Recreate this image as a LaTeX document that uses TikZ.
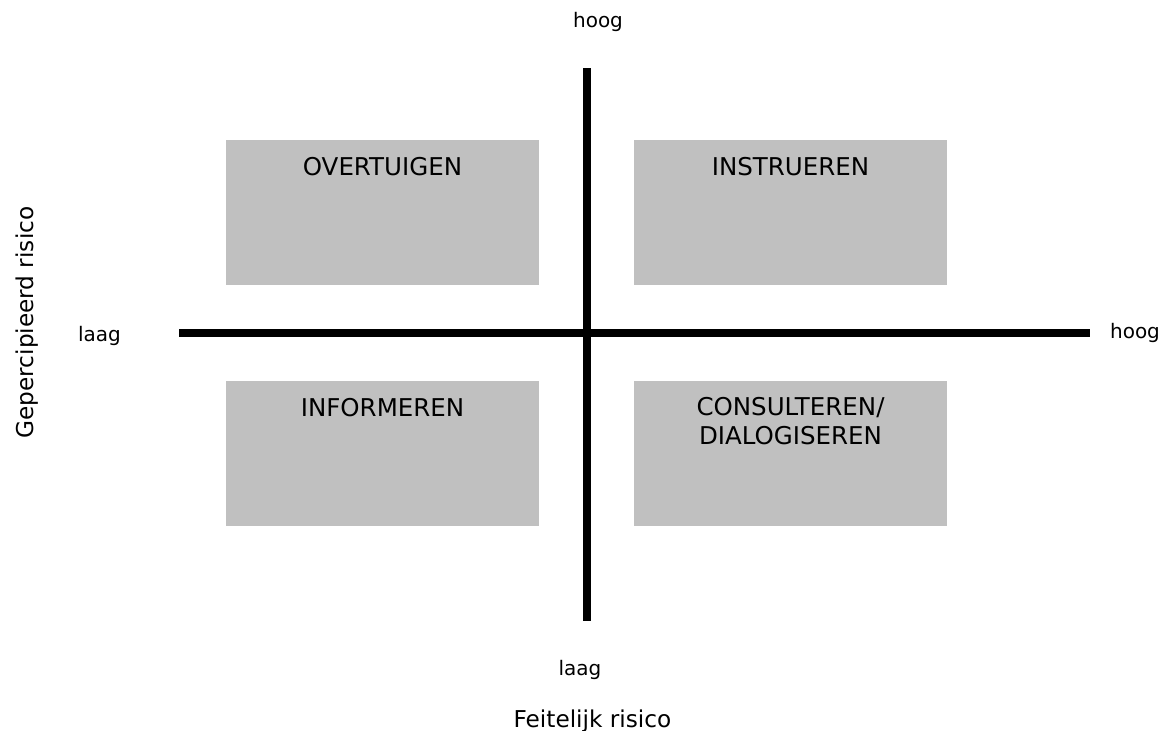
\documentclass[tikz,border=0pt]{standalone}
\usepackage{fontspec}
\setmainfont{DejaVu Sans}
\definecolor{boxgray}{HTML}{C0C0C0}
\begin{document}
\begin{tikzpicture}[x=1pt,y=-1pt,
  quad/.style={fill=boxgray,draw=none},
  quadlabel/.style={anchor=base,inner sep=0pt,font=\fontsize{24.5}{29}\selectfont,align=center},
  small/.style={anchor=base,inner sep=0pt,font=\fontsize{20}{24}\selectfont},
  axtitle/.style={anchor=base,inner sep=0pt,font=\fontsize{23.2}{28}\selectfont},
  axis/.style={line width=8pt,black}]
\useasboundingbox (0,0) rectangle (1168,731);
% quadrant boxes
\fill[quad] (226,140) rectangle (539,285);
\fill[quad] (634,140) rectangle (947,285);
\fill[quad] (226,381) rectangle (539,526);
\fill[quad] (634,381) rectangle (947,526);
\node[quadlabel] (ov) at (382.5,175) {OVERTUIGEN};
\node[quadlabel] (in) at (790.5,175) {INSTRUEREN};
\node[quadlabel] (inf) at (382.5,416) {INFORMEREN};
\node[quadlabel] (co) at (790.5,444) {CONSULTEREN/\\DIALOGISEREN};
% axes
\coordinate (vt) at (587,68);
\coordinate (vb) at (587,621);
\coordinate (hl) at (179,333);
\coordinate (hr) at (1090,333);
\draw[axis] (vt) -- (vb);
\draw[axis] (hl) -- (hr);
% axis labels
\node[small] (hoogt) at (598,27) {hoog};
\node[small] (laagb) at (580,675) {laag};
\node[small] (laagl) at (99.5,341) {laag};
\node[small] (hoogr) at (1135,338) {hoog};
\node[axtitle] (fr) at (592.5,727) {Feitelijk risico};
\node[axtitle,rotate=90] (gr) at (33,322.5) {Gepercipieerd risico};
\end{tikzpicture}
\end{document}
